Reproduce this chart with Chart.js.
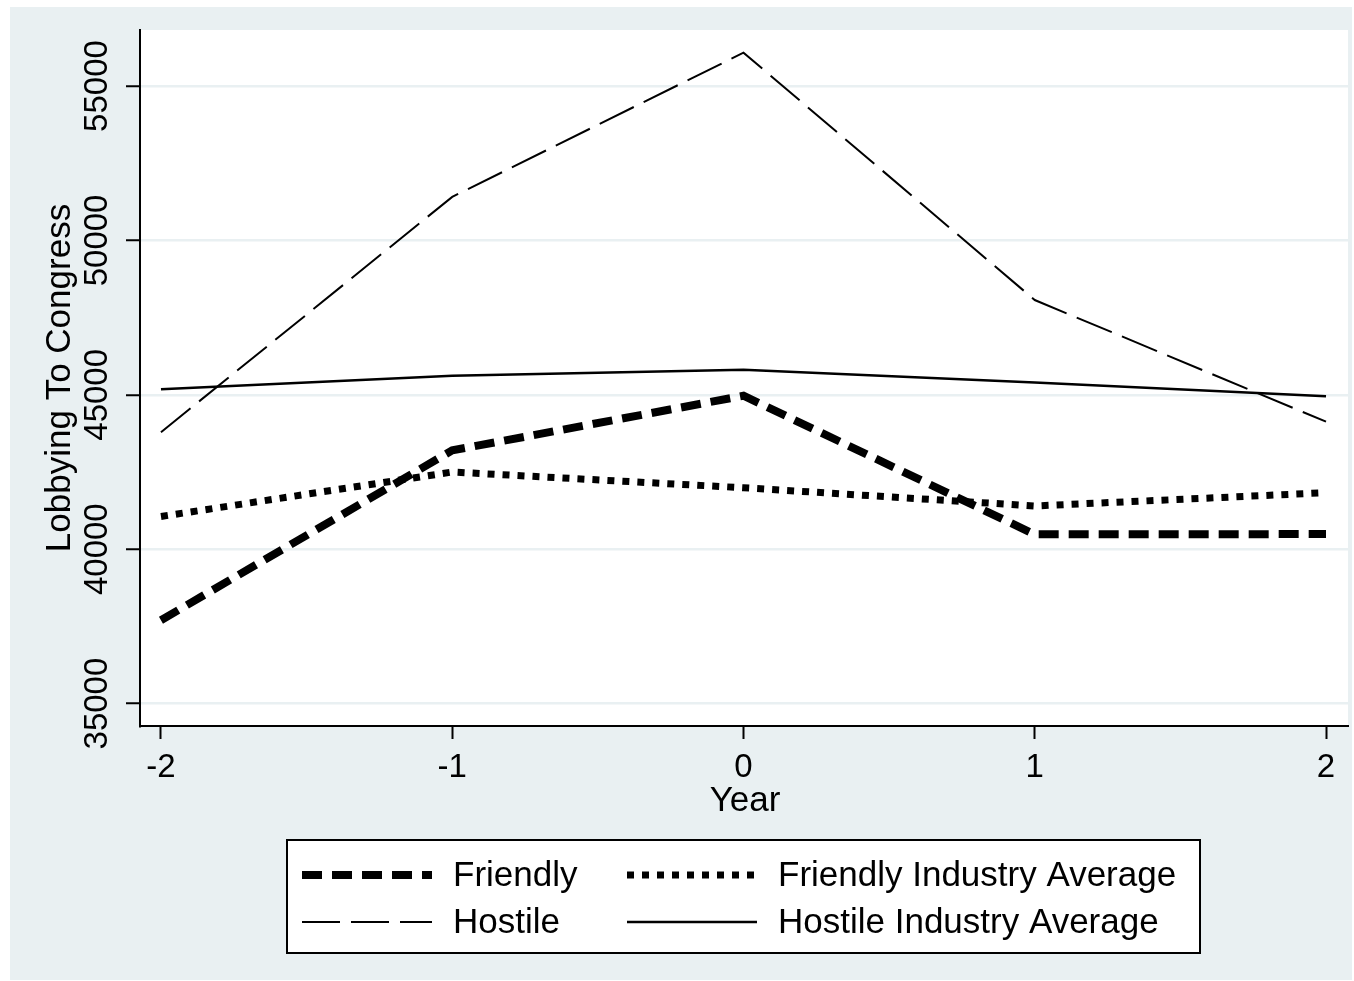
<!DOCTYPE html>
<html>
<head>
<meta charset="utf-8">
<script src="https://cdn.jsdelivr.net/npm/chart.js@4"></script>
<style>
  html, body { margin: 0; padding: 0; background: #fff; }
  #wrap { width: 1354px; height: 981px; }
</style>
</head>
<body>
<div id="wrap"><canvas id="lobbyChart" width="1354" height="981"></canvas></div>
<script>
// values
const years = [-2, -1, 0, 1, 2];
const friendly = [37700, 43200, 44970, 40480, 40490];
const friendlyIndustry = [41060, 42500, 41990, 41400, 41830];
const hostile = [43790, 51410, 56080, 48070, 44130];
const hostileIndustry = [45180, 45620, 45810, 45400, 44950];
const yTicks = [35000, 40000, 45000, 50000, 55000];
const seriesNames = ['Friendly', 'Friendly Industry Average', 'Hostile', 'Hostile Industry Average'];

const FONT = '"Liberation Sans", Arial, sans-serif';
const BG = '#e9f0f2';

function pts(vals) {
  return years.map((x, i) => ({ x: x, y: vals[i] }));
}

const datasets = [
  { label: seriesNames[0], data: pts(friendly), borderWidth: 8, borderDash: [20, 10] },
  { label: seriesNames[1], data: pts(friendlyIndustry), borderWidth: 7, borderDash: [7, 8] },
  { label: seriesNames[2], data: pts(hostile), borderWidth: 2, borderDash: [38, 11] },
  { label: seriesNames[3], data: pts(hostileIndustry), borderWidth: 2.5, borderDash: [] }
].map(d => Object.assign(d, {
  borderColor: '#000',
  backgroundColor: '#000',
  pointRadius: 0,
  tension: 0,
  fill: false,
  borderCapStyle: 'butt',
  borderJoinStyle: 'miter'
}));

// backgrounds, rotated y labels, titles and the boxed legend
const stataLook = {
  id: 'stataLook',
  beforeDraw(chart) {
    const { ctx, chartArea: a } = chart;
    ctx.save();
    ctx.fillStyle = '#fff';
    ctx.fillRect(0, 0, chart.width, chart.height);
    ctx.fillStyle = BG;
    ctx.fillRect(10, 7, 1342, 973);
    ctx.fillStyle = '#fff';
    ctx.fillRect(a.left, a.top, a.right - a.left, a.bottom - a.top);
    ctx.restore();
  },
  afterDraw(chart) {
    const { ctx, chartArea: a } = chart;
    const xs = chart.scales.x, ys = chart.scales.y;
    ctx.save();
    ctx.fillStyle = '#000';

    // y tick labels, rotated
    ctx.font = '33px ' + FONT;
    ctx.textAlign = 'center';
    ctx.textBaseline = 'middle';
    yTicks.forEach(v => {
      ctx.save();
      ctx.translate(98, ys.getPixelForValue(v));
      ctx.rotate(-Math.PI / 2);
      ctx.fillText(String(v), 0, 0);
      ctx.restore();
    });

    // x tick labels
    years.forEach(v => {
      ctx.fillText(String(v), xs.getPixelForValue(v), 768);
    });

    // axis titles
    ctx.font = '35px ' + FONT;
    ctx.fillText('Year', (a.left + a.right) / 2 + 1, 801);
    ctx.save();
    ctx.translate(60, (a.top + a.bottom) / 2);
    ctx.rotate(-Math.PI / 2);
    ctx.fillText('Lobbying To Congress', 0, 0);
    ctx.restore();

    // legend box
    ctx.fillStyle = '#fff';
    ctx.fillRect(287, 840, 913, 113);
    ctx.strokeStyle = '#000';
    ctx.lineWidth = 2;
    ctx.strokeRect(287, 840, 913, 113);

    const cols = [302, 627];
    const rows = [875, 922];
    chart.data.datasets.forEach((ds, i) => {
      const x0 = cols[i % 2];
      const y0 = rows[Math.floor(i / 2)];
      ctx.save();
      ctx.strokeStyle = ds.borderColor;
      ctx.lineWidth = ds.borderWidth;
      ctx.lineCap = 'butt';
      ctx.setLineDash(ds.borderDash);
      ctx.beginPath();
      ctx.moveTo(x0, y0);
      ctx.lineTo(x0 + 130, y0);
      ctx.stroke();
      ctx.restore();
      ctx.fillStyle = '#000';
      ctx.font = '35px ' + FONT;
      ctx.textAlign = 'left';
      ctx.textBaseline = 'middle';
      ctx.fillText(ds.label, x0 + 151, y0 + 1);
    });
    ctx.restore();
  }
};

const ctx = document.getElementById('lobbyChart').getContext('2d');
new Chart(ctx, {
  type: 'line',
  data: { datasets: datasets },
  options: {
    responsive: false,
    animation: false,
    layout: { padding: { left: 0, right: 6, top: 30, bottom: 0 } },
    plugins: {
      legend: { display: false },
      tooltip: { enabled: false }
    },
    scales: {
      x: {
        type: 'linear',
        min: -2.072,
        max: 2.0755,
        afterBuildTicks: s => { s.ticks = years.map(v => ({ value: v })); },
        afterFit: s => { s.height = 255; },
        ticks: { display: false },
        grid: { drawOnChartArea: false, drawTicks: true, tickLength: 13, tickColor: '#000', tickWidth: 2 },
        border: { color: '#000', width: 2 }
      },
      y: {
        type: 'linear',
        min: 34274,
        max: 56815,
        afterBuildTicks: s => { s.ticks = yTicks.map(v => ({ value: v })); },
        afterFit: s => { s.width = 140; },
        ticks: { display: false },
        grid: { color: BG, lineWidth: 2.5, drawTicks: true, tickLength: 14, tickColor: '#000', tickWidth: 2 },
        border: { color: '#000', width: 2 }
      }
    }
  },
  plugins: [stataLook]
});
</script>
</body>
</html>
